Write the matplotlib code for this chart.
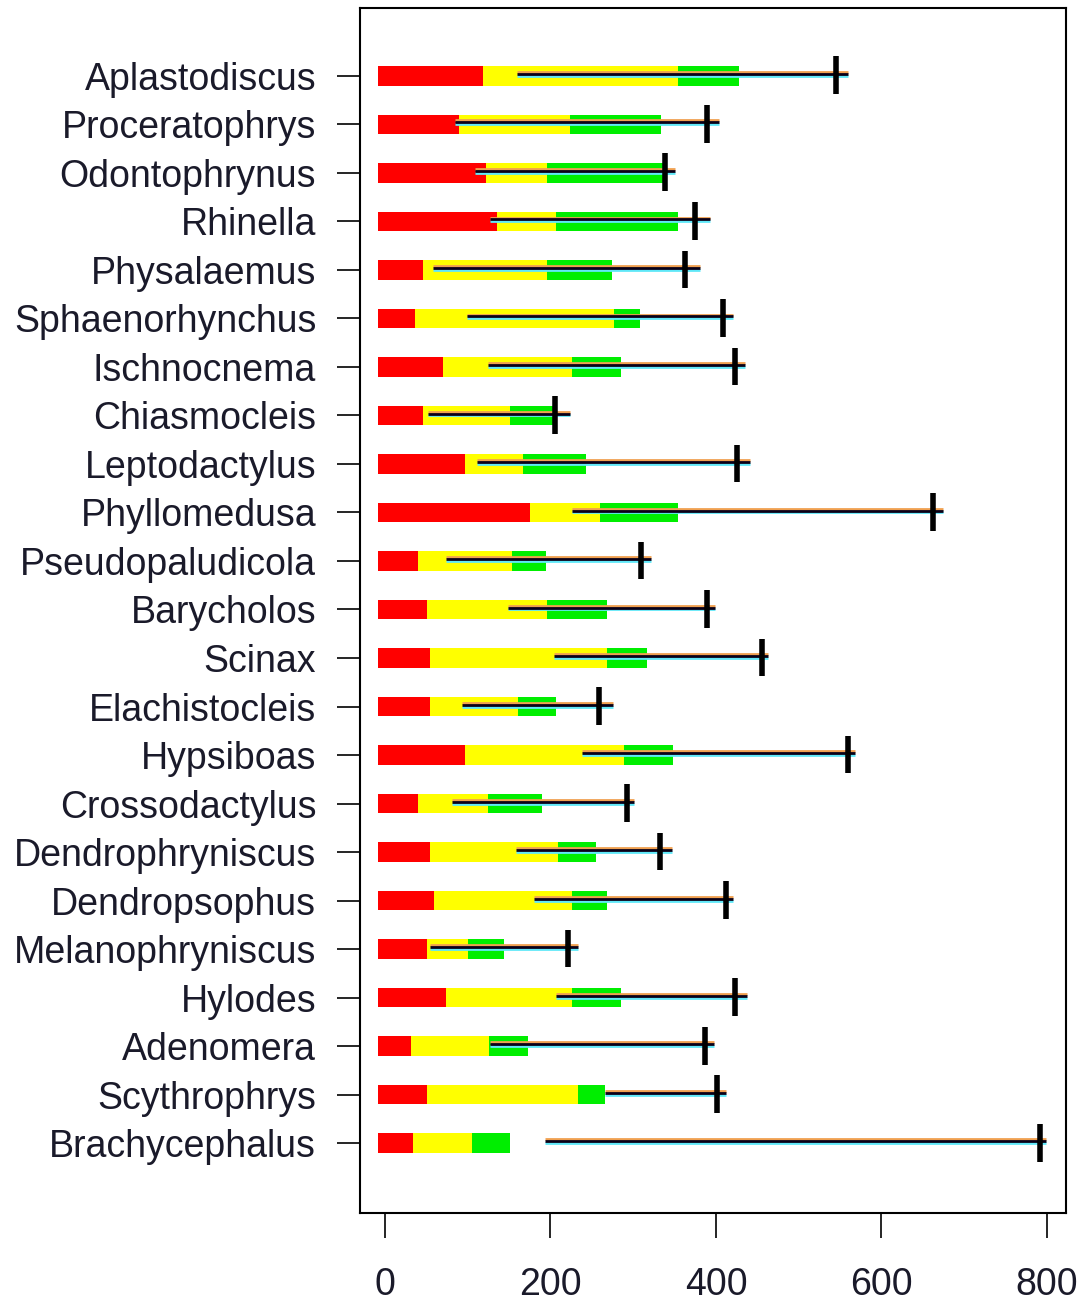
import matplotlib
matplotlib.use("Agg")
import matplotlib.pyplot as plt
import numpy as np

plt.rcParams['font.family'] = ['Liberation Sans', 'DejaVu Sans']

genera = ["Aplastodiscus", "Proceratophrys", "Odontophrynus", "Rhinella",
          "Physalaemus", "Sphaenorhynchus", "Ischnocnema", "Chiasmocleis",
          "Leptodactylus", "Phyllomedusa", "Pseudopaludicola", "Barycholos",
          "Scinax", "Elachistocleis", "Hypsiboas", "Crossodactylus",
          "Dendrophryniscus", "Dendropsophus", "Melanophryniscus", "Hylodes",
          "Adenomera", "Scythrophrys", "Brachycephalus"]

# cumulative ends of the three stacked segments
red_end = [118, 89, 122, 135, 46, 36, 70, 46, 97, 175, 40, 51, 54, 54, 97, 40,
           54, 59, 51, 74, 31, 51, 34]
yellow_end = [354, 224, 196, 207, 196, 277, 226, 151, 167, 260, 153, 196, 268,
              161, 289, 124, 209, 226, 100, 226, 126, 233, 105]
green_end = [428, 334, 338, 354, 274, 308, 285, 207, 243, 354, 195, 268, 317,
             207, 348, 190, 255, 268, 144, 285, 173, 266, 151]

# range line (start, end) and the marker value
line_start = [160, 85, 109, 127, 58, 99, 124, 52, 111, 226, 74, 149, 204, 93,
              238, 81, 158, 180, 54, 207, 127, 266, 193]
line_end = [560, 404, 350, 393, 381, 421, 435, 224, 441, 674, 321, 399, 463,
            276, 568, 301, 347, 421, 233, 437, 398, 412, 799]
marker = [545, 389, 338, 375, 363, 408, 423, 205, 425, 662, 309, 389, 456, 259,
          560, 292, 332, 412, 221, 423, 387, 401, 792]

bar_origin = -8
n = len(genera)
y = np.arange(n)[::-1]

fig = plt.figure(figsize=(10.84, 13.03), dpi=100)
ax = fig.add_axes([0.3321, 0.0691, 0.6513, 0.9248])

red_end = np.array(red_end)
yellow_end = np.array(yellow_end)
green_end = np.array(green_end)
h = 0.4
ax.barh(y, red_end - bar_origin, left=bar_origin, height=h, color='#FF0000', zorder=2)
ax.barh(y, yellow_end - red_end, left=red_end, height=h, color='#FFFF00', zorder=2)
ax.barh(y, green_end - yellow_end, left=yellow_end, height=h, color='#00EE00', zorder=2)

ax.hlines(y + 0.08, line_start, line_end, color='#F0A050', lw=2.0, zorder=3)
ax.hlines(y + 0.0, line_start, line_end, color='#60E8F8', lw=2.0, zorder=3)
ax.hlines(y + 0.04, line_start, line_end, color='#0A0018', lw=2.0, zorder=4)
ax.vlines(marker, y - 0.38, y + 0.4, color='black', lw=4.0, zorder=5)

ax.set_xlim(-30.2, 823)
ax.set_ylim(-1.44, 23.4)
ax.set_yticks(y)
ax.set_yticklabels(genera, fontsize=27, color='#1a1a2a')
ax.set_xticks([0, 200, 400, 600, 800])
ax.set_xticklabels(['0', '200', '400', '600', '800'], fontsize=27, color='#1a1a2a')
ax.tick_params(axis='y', length=16.5, width=1.2, pad=15)
ax.tick_params(axis='x', length=18, width=1.2, pad=21)
for s in ax.spines.values():
    s.set_linewidth(1.5)

fig.savefig("out.png", dpi=100)
